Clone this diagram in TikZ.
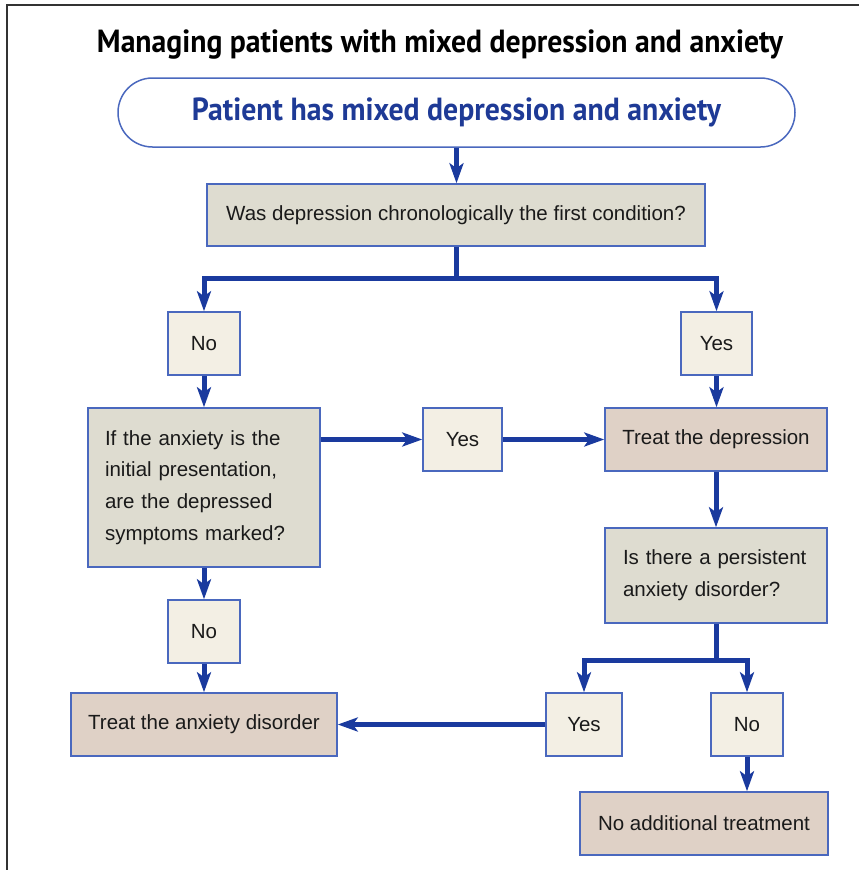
\documentclass[tikz,border=0pt]{standalone}
\usepackage{fontspec}
\setmainfont{Liberation Sans}
\newfontfamily\titlefont{PT Sans}
\usetikzlibrary{arrows.meta,calc}
\definecolor{lineblue}{HTML}{1A3A9E}
\definecolor{edgeblue}{HTML}{4A68BE}
\definecolor{titleblue}{HTML}{1E3A96}
\definecolor{qfill}{HTML}{DEDCD0}
\definecolor{ynfill}{HTML}{F3EFE4}
\definecolor{trfill}{HTML}{DFD1C6}
\definecolor{framegray}{HTML}{333333}
\definecolor{textblack}{HTML}{1A1A1A}
\begin{document}
\begin{tikzpicture}[x=1pt,y=-1pt,
 box/.style={draw=edgeblue, line width=1.5pt, inner sep=0pt, text=textblack,
   font=\fontsize{20.5}{31.8}\selectfont},
 qbox/.style={box, fill=qfill},
 ynbox/.style={box, fill=ynfill, minimum height=63pt},
 trbox/.style={box, fill=trfill, minimum height=63pt},
 flow/.style={draw=lineblue, line width=5pt},
 arr/.style={flow, -{Stealth[length=20pt,width=14pt,inset=5pt]}},
]
\useasboundingbox (0,0) rectangle (859,870);
\draw[framegray, line width=2pt] (7,870) -- (7,5) -- (859,5);

\node[anchor=base, inner sep=0pt, font=\titlefont\bfseries\fontsize{32}{33}\selectfont] (title) at (440,52)
  {\resizebox{686pt}{\height}{Managing patients with mixed depression and anxiety}};

\node[draw=edgeblue, line width=1.5pt, fill=white, rounded corners=34.5pt,
  minimum width=677pt, minimum height=69pt, inner sep=0pt, text=titleblue,
  font=\titlefont\bfseries\fontsize{32}{33}\selectfont] (top) at (456.5,112.5)
  {\resizebox{529pt}{\height}{Patient has mixed depression and anxiety}};

\node[qbox, minimum width=498pt, minimum height=62pt] (q1) at (456,215)
  {Was depression chronologically the first condition?};
\node[ynbox, minimum width=72pt] (no1) at (204,343.5) {No};
\node[ynbox, minimum width=71pt] (yes1) at (716.5,343.5) {Yes};
\node[qbox, minimum width=232pt, minimum height=159pt, text width=198pt, align=left] (q2) at (204,487.5)
  {If the anxiety is the\\initial presentation,\\are the depressed\\symptoms marked?};
\node[ynbox, minimum width=79pt] (yes2) at (462.5,439.5) {Yes};
\node[trbox, minimum width=222pt] (td) at (716,439.5) {Treat the depression};
\node[qbox, minimum width=222pt, minimum height=95pt, text width=186pt, align=left] (q3) at (716,575.5)
  {Is there a persistent\\anxiety disorder?};
\node[ynbox, minimum width=72pt] (no2) at (204,631.5) {No};
\node[trbox, minimum width=266pt] (ta) at (204,724.5) {Treat the anxiety disorder};
\node[ynbox, minimum width=76pt] (yes3) at (584,724.5) {Yes};
\node[ynbox, minimum width=72pt] (no3) at (747,724.5) {No};
\node[trbox, minimum width=248pt] (na) at (704,823.5) {No additional treatment};

\coordinate (j1) at (456,278);
\coordinate (j2) at (716,660);

\draw[arr] (top.south) -- (top.south |- q1.north);
\draw[flow] (q1.south) -- (j1);
\draw[arr] (j1) -| (no1.north);
\draw[arr] (j1) -| (yes1.north);
\draw[arr] (no1.south) -- (q2.north);
\draw[arr] (yes1.south) -- (yes1.south |- td.north);
\draw[arr] (q2.east |- yes2.west) -- (yes2.west);
\draw[arr] (yes2.east) -- (td.west);
\draw[arr] (td.south) -- (q3.north);
\draw[flow] (q3.south) -- (j2);
\draw[arr] (j2) -| (yes3.north);
\draw[arr] (j2) -| (no3.north);
\draw[arr] (no3.south) -- (no3.south |- na.north);
\draw[arr] (yes3.west) -- (ta.east);
\draw[arr] (q2.south) -- (no2.north);
\draw[arr] (no2.south) -- (ta.north);
\end{tikzpicture}
\end{document}
